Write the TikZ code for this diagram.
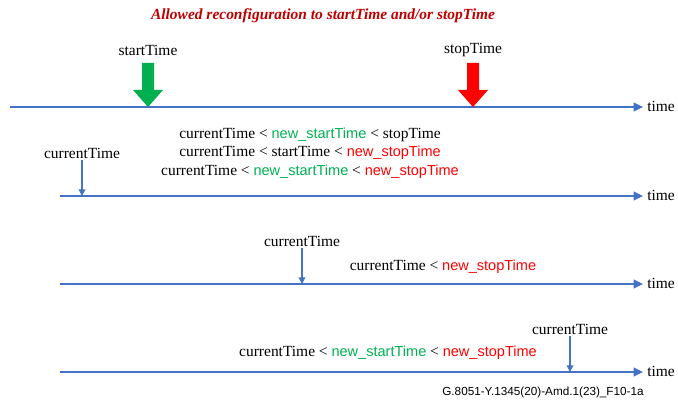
\documentclass[tikz,border=0pt]{standalone}
\usepackage{fontspec}
\setmainfont{Liberation Serif}
\setsansfont{Liberation Sans}
\usetikzlibrary{arrows.meta}

\definecolor{lineblue}{RGB}{68,114,196}
\definecolor{titlered}{RGB}{192,0,0}
\definecolor{blockgreen}{RGB}{0,176,80}
\definecolor{newgreen}{RGB}{0,176,80}
\definecolor{newred}{RGB}{255,0,0}

\newcommand{\newstart}{\textcolor{newgreen}{\sffamily\fontsize{10.9}{13.9}\selectfont new\_startTime}}
\newcommand{\newstop}{\textcolor{newred}{\sffamily\fontsize{10.9}{13.9}\selectfont new\_stopTime}}

\begin{document}
\begin{tikzpicture}[x=0.75pt,y=0.75pt,yscale=-1,xscale=1,
  every node/.style={font=\fontsize{11.6}{13.9}\selectfont},
  timeline/.style={draw=lineblue, line width=1.1pt, -{Triangle[length=7pt,width=6.5pt]}},
  pointer/.style={draw=lineblue, line width=0.9pt, -{Triangle[length=5pt,width=5pt]}},
  label/.style={inner sep=1pt},
  timelabel/.style={anchor=west, inner ysep=0pt, inner xsep=3pt},
  cond/.style={align=center, inner sep=0pt}]
\useasboundingbox (0,0) rectangle (678,403);

% Title
\node (title) at (323,16) {\fontsize{11.6}{13}\selectfont\color{titlered}\bfseries\itshape Allowed reconfiguration to startTime and/or stopTime};

% Time line 1 with startTime / stopTime
\coordinate (s1) at (10,107);
\node[timelabel] (time1) at (643,106) {time};
\draw[timeline] (s1) -- (time1.west |- s1);

\node[label] (start) at (148,50) {startTime};
\node[label] (stop) at (473,50) {stopTime};

% block arrows
\coordinate (gtip) at (148,107);
\fill[blockgreen] (gtip) -- ++(-15,-17) -- ++(9,0) -- ++(0,-27) -- ++(12,0) -- ++(0,27) -- ++(9,0) -- cycle;
\coordinate (rtip) at (473,107);
\fill[newred] (rtip) -- ++(-15,-17) -- ++(9,0) -- ++(0,-27) -- ++(12,0) -- ++(0,27) -- ++(9,0) -- cycle;

% Time line 2
\coordinate (s2) at (60,196);
\node[timelabel] (time2) at (643,195) {time};
\draw[timeline] (s2) -- (time2.west |- s2);
\node[label, anchor=south] (cur2) at (82,160) {currentTime};
\draw[pointer] (cur2.south) -- (cur2.south |- s2);
\node[cond] (cond2) at (310,153) {currentTime < \newstart{} < stopTime\\
  currentTime < startTime < \newstop\\
  currentTime < \newstart{} < \newstop};

% Time line 3
\coordinate (s3) at (60,284);
\node[timelabel] (time3) at (643,283) {time};
\draw[timeline] (s3) -- (time3.west |- s3);
\node[label, anchor=south] (cur3) at (302,248) {currentTime};
\draw[pointer] (cur3.south) -- (cur3.south |- s3);
\node[cond] (cond3) at (443,267) {currentTime < \newstop};

% Time line 4
\coordinate (s4) at (60,372);
\node[timelabel] (time4) at (643,371) {time};
\draw[timeline] (s4) -- (time4.west |- s4);
\node[label, anchor=south] (cur4) at (570,336) {currentTime};
\draw[pointer] (cur4.south) -- (cur4.south |- s4);
\node[cond] (cond4) at (388,353) {currentTime < \newstart{} < \newstop};

% figure id
\node (figid) at (543,392) {\sffamily\fontsize{8.8}{10}\selectfont G.8051-Y.1345(20)-Amd.1(23)\_F10-1a};
\end{tikzpicture}
\end{document}
